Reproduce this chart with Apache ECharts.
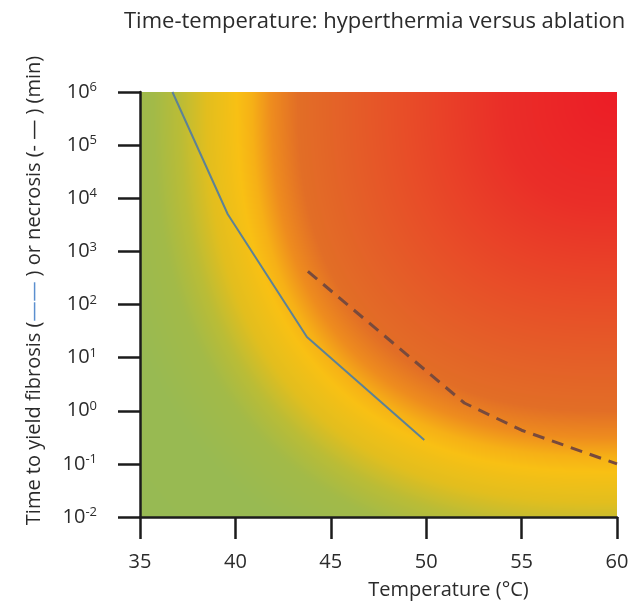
<!DOCTYPE html>
<html>
<head>
<meta charset="utf-8">
<script src="https://cdn.jsdelivr.net/npm/echarts@6/dist/echarts.min.js"></script>
<style>
html,body{margin:0;padding:0;background:#fff;}
#main{width:642px;height:606px;}
</style>
</head>
<body>
<div id="main"></div>
<script>
// ---- data ----
const titleText = 'Time-temperature: hyperthermia versus ablation';
const xTicks = [35, 40, 45, 50, 55, 60];
const yDecades = [-2, -1, 0, 1, 2, 3, 4, 5, 6];
const fibrosisTemp = [36.7, 39.6, 43.75, 49.9];
const fibrosisTime = [1e6, 5000, 24.5, 0.28];
const necrosisTemp = [43.8, 52.0, 55.0, 60.0];
const necrosisTime = [420, 1.4, 0.43, 0.1];

const FONT = 'Open Sans';
const TXT = '#2b2b2b';
const AX = '#1c1c1c';

const chart = echarts.init(document.getElementById('main'), null, {renderer: 'canvas'});

const option = {
  animation: false,
  backgroundColor: '#ffffff',
  textStyle: {fontFamily: FONT},
  title: {
    text: titleText,
    left: 119, top: 6,
    textStyle: {fontFamily: FONT, fontSize: 22, fontWeight: 'normal', color: TXT}
  },
  grid: {left: 140, right: 25, top: 92, bottom: 89, containLabel: false},
  xAxis: {
    type: 'value', min: xTicks[0], max: xTicks[xTicks.length - 1], interval: 5,
    name: 'Temperature (°C)', nameLocation: 'middle', nameGap: 63,
    nameTextStyle: {fontFamily: FONT, fontSize: 20, color: TXT, padding: [0, 0, 0, 140]},
    axisLine: {show: true, onZero: false, lineStyle: {color: AX, width: 2.5}},
    axisTick: {show: true, length: 22, lineStyle: {color: AX, width: 2.5}},
    axisLabel: {margin: 35, fontFamily: FONT, fontSize: 20, color: TXT},
    splitLine: {show: false}
  },
  yAxis: {
    type: 'log', logBase: 10,
    min: Math.pow(10, yDecades[0]), max: Math.pow(10, yDecades[yDecades.length - 1]), interval: 1,
    name: '{t|Time to yield fibrosis (}{b|——}{t| ) or necrosis (- — ) (min)}',
    nameLocation: 'middle', nameGap: 96, nameRotate: 90,
    nameTextStyle: {
      fontFamily: FONT, fontSize: 20, color: TXT, padding: [0, 0, 0, 28],
      rich: {
        t: {fontFamily: FONT, fontSize: 20, color: TXT},
        b: {fontFamily: FONT, fontSize: 20, color: '#5b8fcf'}
      }
    },
    axisLine: {show: true, lineStyle: {color: AX, width: 2.5}},
    axisTick: {show: true, length: 22, lineStyle: {color: AX, width: 2.5}},
    axisLabel: {
      margin: 43, color: TXT,
      formatter: function (v) {
        const e = Math.round(Math.log10(v));
        return '{b|10}{s|' + e + '}';
      },
      rich: {
        b: {fontFamily: FONT, fontSize: 20, color: TXT, lineHeight: 22},
        s: {fontFamily: FONT, fontSize: 13, color: TXT, verticalAlign: 'top', lineHeight: 12}
      }
    },
    splitLine: {show: false}
  },
  series: [
    {
      name: 'fibrosis', type: 'line', z: 5,
      data: fibrosisTemp.map((t, i) => [t, fibrosisTime[i]]),
      showSymbol: false, symbol: 'none',
      lineStyle: {color: '#5d8296', width: 2}
    },
    {
      name: 'necrosis', type: 'line', z: 5,
      data: necrosisTemp.map((t, i) => [t, necrosisTime[i]]),
      showSymbol: false, symbol: 'none',
      lineStyle: {color: '#784a3c', width: 3, type: [12, 8]}
    }
  ]
};
chart.setOption(option);

// ---- background heat gradient (decoration), mapped through the axes ----
const stops = [
  [0.0, [236, 28, 38]],
  [0.3, [234, 46, 40]],
  [0.55, [232, 76, 40]],
  [0.72, [228, 96, 40]],
  [0.84, [226, 110, 38]],
  [0.91, [238, 140, 30]],
  [0.96, [246, 176, 22]],
  [1.0, [248, 192, 20]],
  [1.08, [226, 190, 30]],
  [1.15, [186, 188, 54]],
  [1.22, [162, 186, 72]],
  [1.35, [152, 186, 82]],
  [2.5, [148, 186, 86]]
];
function colorAt(s) {
  if (s <= stops[0][0]) return stops[0][1];
  for (let i = 1; i < stops.length; i++) {
    if (s <= stops[i][0]) {
      const a = stops[i - 1], b = stops[i];
      const f = (s - a[0]) / (b[0] - a[0]);
      return [0, 1, 2].map(k => a[1][k] + (b[1][k] - a[1][k]) * f);
    }
  }
  return stops[stops.length - 1][1];
}
const xMin = xTicks[0], xMax = xTicks[xTicks.length - 1];
const lMin = yDecades[0], lMax = yDecades[yDecades.length - 1];
const p0 = chart.convertToPixel({xAxisIndex: 0, yAxisIndex: 0}, [xMin, Math.pow(10, lMax)]);
const p1 = chart.convertToPixel({xAxisIndex: 0, yAxisIndex: 0}, [xMax, Math.pow(10, lMin)]);
const W = Math.round(p1[0] - p0[0]), H = Math.round(p1[1] - p0[1]);
const cv = document.createElement('canvas');
cv.width = W; cv.height = H;
const ctx = cv.getContext('2d');
const img = ctx.createImageData(W, H);
const P = 2.5;
const SX = 380 / 477, SY = 380 / 425;
for (let j = 0; j < H; j++) {
  const fy = (j + 0.5) / H;           // 0 at top (long time) .. 1 at bottom
  const v = fy / SY;
  for (let i = 0; i < W; i++) {
    const fx = 1 - (i + 0.5) / W;      // 0 at right (hot) .. 1 at left
    const u = fx / SX;
    const s = Math.pow(Math.pow(u, P) + Math.pow(v, P), 1 / P);
    const c = colorAt(s);
    const o = (j * W + i) * 4;
    img.data[o] = c[0]; img.data[o + 1] = c[1]; img.data[o + 2] = c[2]; img.data[o + 3] = 255;
  }
}
ctx.putImageData(img, 0, 0);
chart.setOption({
  graphic: [{
    type: 'image', x: p0[0], y: p0[1], z: -10, silent: true,
    style: {image: cv, width: W, height: H}
  }]
});
</script>
</body>
</html>
